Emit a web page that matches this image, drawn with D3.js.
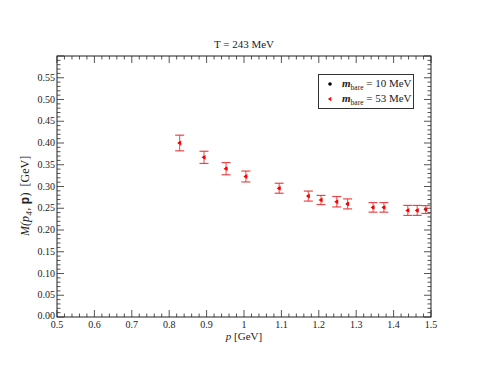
<!DOCTYPE html>
<html><head><meta charset="utf-8">
<script src="https://cdn.jsdelivr.net/npm/d3@7"></script>
<style>body{margin:0;background:#fff}svg{display:block}text{font-family:"Liberation Serif","DejaVu Serif",serif}</style>
</head><body>
<svg id="c" width="485" height="374"></svg>
<script>
const title = "T = 243 MeV";
const pValues = [0.828, 0.893, 0.952, 1.005, 1.094, 1.172, 1.206, 1.248, 1.277, 1.345, 1.374, 1.438, 1.463, 1.486];
const mass10 = [0.400, 0.367, 0.341, 0.323, 0.296, 0.278, 0.269, 0.265, 0.260, 0.252, 0.252, 0.245, 0.245, 0.247];
const mass53 = [0.400, 0.367, 0.341, 0.323, 0.296, 0.278, 0.269, 0.265, 0.260, 0.252, 0.252, 0.245, 0.245, 0.247];
const err53 = [0.018, 0.014, 0.014, 0.0125, 0.0115, 0.0115, 0.0105, 0.012, 0.0115, 0.011, 0.011, 0.0115, 0.0115, 0.009];
const xTicks = [0.5, 0.6, 0.7, 0.8, 0.9, 1.0, 1.1, 1.2, 1.3, 1.4, 1.5];
const yTicks = [0.00, 0.05, 0.10, 0.15, 0.20, 0.25, 0.30, 0.35, 0.40, 0.45, 0.50, 0.55];
const legendLabels = ["= 10 MeV", "= 53 MeV"];

const svg = d3.select("#c");
const L = 57, R = 431, T = 56, B = 317;
const x = d3.scaleLinear().domain([0.5, 1.5]).range([L, R]);
const y = d3.scaleLinear().domain([0, 0.6]).range([B, T]);

const g = svg.append("g");
const xMinor = d3.range(0.5, 1.5001, 0.02);
const yMinor = d3.range(0, 0.6001, 0.01);
const tickCol = "#555";
xMinor.forEach(v => {
  const major = Math.abs(v*10 - Math.round(v*10)) < 1e-6;
  const len = major ? 7 : 3.5;
  g.append("line").attr("x1", x(v)).attr("x2", x(v)).attr("y1", B).attr("y2", B - len).attr("stroke", tickCol).attr("stroke-width", 1);
  g.append("line").attr("x1", x(v)).attr("x2", x(v)).attr("y1", T).attr("y2", T + len).attr("stroke", tickCol).attr("stroke-width", 1);
});
yMinor.forEach(v => {
  const major = Math.abs(v*20 - Math.round(v*20)) < 1e-6;
  const len = major ? 7 : 3.5;
  g.append("line").attr("y1", y(v)).attr("y2", y(v)).attr("x1", L).attr("x2", L + len).attr("stroke", tickCol).attr("stroke-width", 1);
  g.append("line").attr("y1", y(v)).attr("y2", y(v)).attr("x1", R).attr("x2", R - len).attr("stroke", tickCol).attr("stroke-width", 1);
});
g.append("rect").attr("x", L).attr("y", T).attr("width", R - L).attr("height", B - T)
  .attr("fill", "none").attr("stroke", "#222").attr("stroke-width", 1);

xTicks.forEach(v => {
  g.append("text").attr("x", x(v)).attr("y", B + 11).attr("text-anchor", "middle")
    .attr("font-size", 10).attr("fill", "#222").text(v === 1 ? "1" : d3.format(".1f")(v));
});
yTicks.forEach(v => {
  g.append("text").attr("x", L - 2).attr("y", y(v) + (v === 0 ? 1.5 : 3)).attr("text-anchor", "end")
    .attr("font-size", 10).attr("fill", "#222").text(d3.format(".2f")(v));
});

svg.append("text").attr("x", 244).attr("y", 48).attr("text-anchor", "middle").attr("font-size", 11).attr("fill", "#222").text(title);
const xl = svg.append("text").attr("x", 244).attr("y", 340).attr("text-anchor", "middle").attr("font-size", 11).attr("fill", "#222");
xl.append("tspan").attr("font-style", "italic").text("p");
xl.append("tspan").text(" [GeV]");

const ylg = svg.append("g").attr("transform", "translate(29,236) rotate(-90)");
const pieces = [
  {t: "M(p", style: "italic", size: 12, dy: 0},
  {t: "4", style: "italic", size: 8.5, dy: 3},
  {t: ",\u00a0", style: "normal", size: 12, dy: 0},
  {t: "p", style: "normal", size: 12, dy: 0, bold: true, sans: true},
  {t: ")\u00a0\u00a0[GeV]", style: "normal", size: 12, dy: 0}
];
let cur = 0;
pieces.forEach(pc => {
  const te = ylg.append("text").attr("x", cur).attr("y", pc.dy).attr("font-size", pc.size)
    .attr("font-style", pc.style).attr("fill", "#222").text(pc.t);
  if (pc.bold) te.attr("font-weight", "bold");
  if (pc.sans) te.style("font-family", "'Liberation Sans', Arial, sans-serif");
  cur += te.node().getComputedTextLength() + 0.5;
});

const red = "#e8282c";
const pts = svg.append("g");
pValues.forEach((p, i) => {
  const cx = x(p), cy = y(mass53[i]);
  const y0 = y(mass53[i] - err53[i]), y1 = y(mass53[i] + err53[i]);
  pts.append("circle").attr("cx", x(p)).attr("cy", y(mass10[i])).attr("r", 1.3).attr("fill", "#000");
  pts.append("line").attr("x1", cx).attr("x2", cx).attr("y1", y0).attr("y2", y1).attr("stroke", red).attr("stroke-width", 1).attr("opacity", 0.85);
  [y0, y1].forEach(yy => pts.append("line").attr("x1", cx - 4.5).attr("x2", cx + 4.5).attr("y1", yy).attr("y2", yy).attr("stroke", red).attr("stroke-width", 1.2).attr("opacity", 0.85));
  pts.append("path").attr("d", `M${cx-2.5},${cy} L${cx+1.5},${cy-2.4} L${cx+1.5},${cy+2.4} Z`).attr("fill", "#f00");
});

const lg = svg.append("g");
lg.append("rect").attr("x", 318.5).attr("y", 74.5).attr("width", 95).attr("height", 34).attr("fill", "#fff").attr("stroke", "#333").attr("stroke-width", 1);
lg.append("circle").attr("cx", 330).attr("cy", 84).attr("r", 1.8).attr("fill", "#000");
lg.append("path").attr("d", "M327.8,99 L331.3,96.8 L331.3,101.2 Z").attr("fill", "#f00");
[0, 1].forEach(i => {
  const t = lg.append("text").attr("x", 342).attr("y", 87 + i * 15).attr("font-size", 11).attr("fill", "#222");
  t.append("tspan").attr("font-weight", "bold").attr("font-style", "italic").text("m");
  t.append("tspan").attr("font-size", 7.5).attr("dy", 2.5).text("bare");
  t.append("tspan").attr("dy", -2.5).text(" " + legendLabels[i]);
});
</script>
</body></html>
